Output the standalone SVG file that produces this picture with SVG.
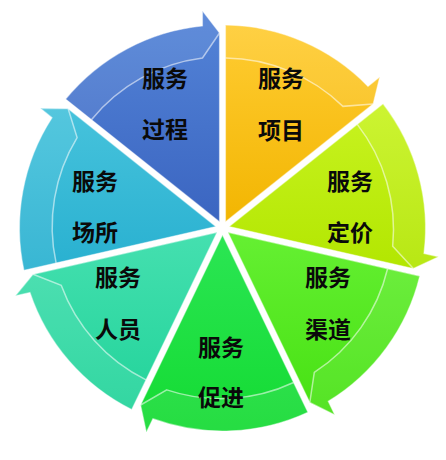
<svg xmlns="http://www.w3.org/2000/svg" xmlns:xlink="http://www.w3.org/1999/xlink" width="446" height="460" viewBox="0 0 446 460">
<style>
.lbl{font-family:"Noto Sans CJK SC","Noto Sans",sans-serif;font-weight:700;font-size:23px;fill:#0a0a0a;text-anchor:middle}
.edge{fill:none;stroke:#ffffff;stroke-opacity:0.45;stroke-width:1.2}
.band{fill:#ffffff;fill-opacity:0.08}
.hl{fill:none;stroke:#ffffff;stroke-opacity:0.55;stroke-width:1.5}
</style>
<defs>
<path id="sec" d="M3,-6.23 L3,-202.98 A203 203 0 0 1 145.47,-141.59 L157.19,-150.93 L150.59,-123.93 Z"/>
<path id="bnd" d="M3,-202.98 A203 203 0 0 1 145.47,-141.59 L157.19,-150.93 L150.59,-123.93 L120.44,-121.63 A171 171 0 0 0 3,-170 Z"/>
<path id="ihl" d="M3,-170 A171 171 0 0 1 120.44,-121.63 L150.59,-123.93"/>
<linearGradient id="g0" gradientUnits="userSpaceOnUse" x1="0" y1="-203" x2="0" y2="0"><stop offset="0" stop-color="#FFCC33"/><stop offset="1" stop-color="#F2B500"/></linearGradient>
<linearGradient id="g1" gradientUnits="userSpaceOnUse" x1="0" y1="-150" x2="0" y2="45" gradientTransform="rotate(-51.4286)"><stop offset="0" stop-color="#CCF526"/><stop offset="1" stop-color="#B2E600"/></linearGradient>
<linearGradient id="g2" gradientUnits="userSpaceOnUse" x1="0" y1="0" x2="0" y2="200" gradientTransform="rotate(-102.8571)"><stop offset="0" stop-color="#66F033"/><stop offset="1" stop-color="#44E010"/></linearGradient>
<linearGradient id="g3" gradientUnits="userSpaceOnUse" x1="0" y1="0" x2="0" y2="217" gradientTransform="rotate(-154.2857)"><stop offset="0" stop-color="#2CE655"/><stop offset="1" stop-color="#12DA30"/></linearGradient>
<linearGradient id="g4" gradientUnits="userSpaceOnUse" x1="0" y1="0" x2="0" y2="200" gradientTransform="rotate(-205.7143)"><stop offset="0" stop-color="#46E0B0"/><stop offset="1" stop-color="#1ED298"/></linearGradient>
<linearGradient id="g5" gradientUnits="userSpaceOnUse" x1="0" y1="-150" x2="0" y2="45" gradientTransform="rotate(-257.1429)"><stop offset="0" stop-color="#4CC6DE"/><stop offset="1" stop-color="#28B0D0"/></linearGradient>
<linearGradient id="g6" gradientUnits="userSpaceOnUse" x1="0" y1="-203" x2="0" y2="0" gradientTransform="rotate(-308.5714)"><stop offset="0" stop-color="#5282D6"/><stop offset="1" stop-color="#3A64C0"/></linearGradient>
</defs>
<rect width="446" height="460" fill="#ffffff"/>
<g transform="translate(222.5,228)">
<g id="node-xiangmu">
<g transform="rotate(0)"><use xlink:href="#sec" fill="url(#g0)"/><use xlink:href="#bnd" class="band"/><use xlink:href="#ihl" class="hl"/><use xlink:href="#sec" class="edge"/></g>
</g>
<g id="node-dingjia">
<g transform="rotate(51.4286)"><use xlink:href="#sec" fill="url(#g1)"/><use xlink:href="#bnd" class="band"/><use xlink:href="#ihl" class="hl"/><use xlink:href="#sec" class="edge"/></g>
</g>
<g id="node-qudao">
<g transform="rotate(102.8571)"><use xlink:href="#sec" fill="url(#g2)"/><use xlink:href="#bnd" class="band"/><use xlink:href="#ihl" class="hl"/><use xlink:href="#sec" class="edge"/></g>
</g>
<g id="node-cujin">
<g transform="rotate(154.2857)"><use xlink:href="#sec" fill="url(#g3)"/><use xlink:href="#bnd" class="band"/><use xlink:href="#ihl" class="hl"/><use xlink:href="#sec" class="edge"/></g>
</g>
<g id="node-renyuan">
<g transform="rotate(205.7143)"><use xlink:href="#sec" fill="url(#g4)"/><use xlink:href="#bnd" class="band"/><use xlink:href="#ihl" class="hl"/><use xlink:href="#sec" class="edge"/></g>
</g>
<g id="node-changsuo">
<g transform="rotate(257.1429)"><use xlink:href="#sec" fill="url(#g5)"/><use xlink:href="#bnd" class="band"/><use xlink:href="#ihl" class="hl"/><use xlink:href="#sec" class="edge"/></g>
</g>
<g id="node-guocheng">
<g transform="rotate(308.5714)"><use xlink:href="#sec" fill="url(#g6)"/><use xlink:href="#bnd" class="band"/><use xlink:href="#ihl" class="hl"/><use xlink:href="#sec" class="edge"/></g>
</g>
</g>
<g id="labels">
<text class="lbl" x="281" y="87">服务</text><text class="lbl" x="281" y="139">项目</text>
<text class="lbl" x="350" y="190">服务</text><text class="lbl" x="350" y="241">定价</text>
<text class="lbl" x="328" y="286">服务</text><text class="lbl" x="328" y="338">渠道</text>
<text class="lbl" x="221" y="356">服务</text><text class="lbl" x="221" y="406">促进</text>
<text class="lbl" x="118" y="286">服务</text><text class="lbl" x="118" y="338">人员</text>
<text class="lbl" x="95" y="190">服务</text><text class="lbl" x="95" y="241">场所</text>
<text class="lbl" x="165" y="87">服务</text><text class="lbl" x="165" y="138">过程</text>
</g>
</svg>
